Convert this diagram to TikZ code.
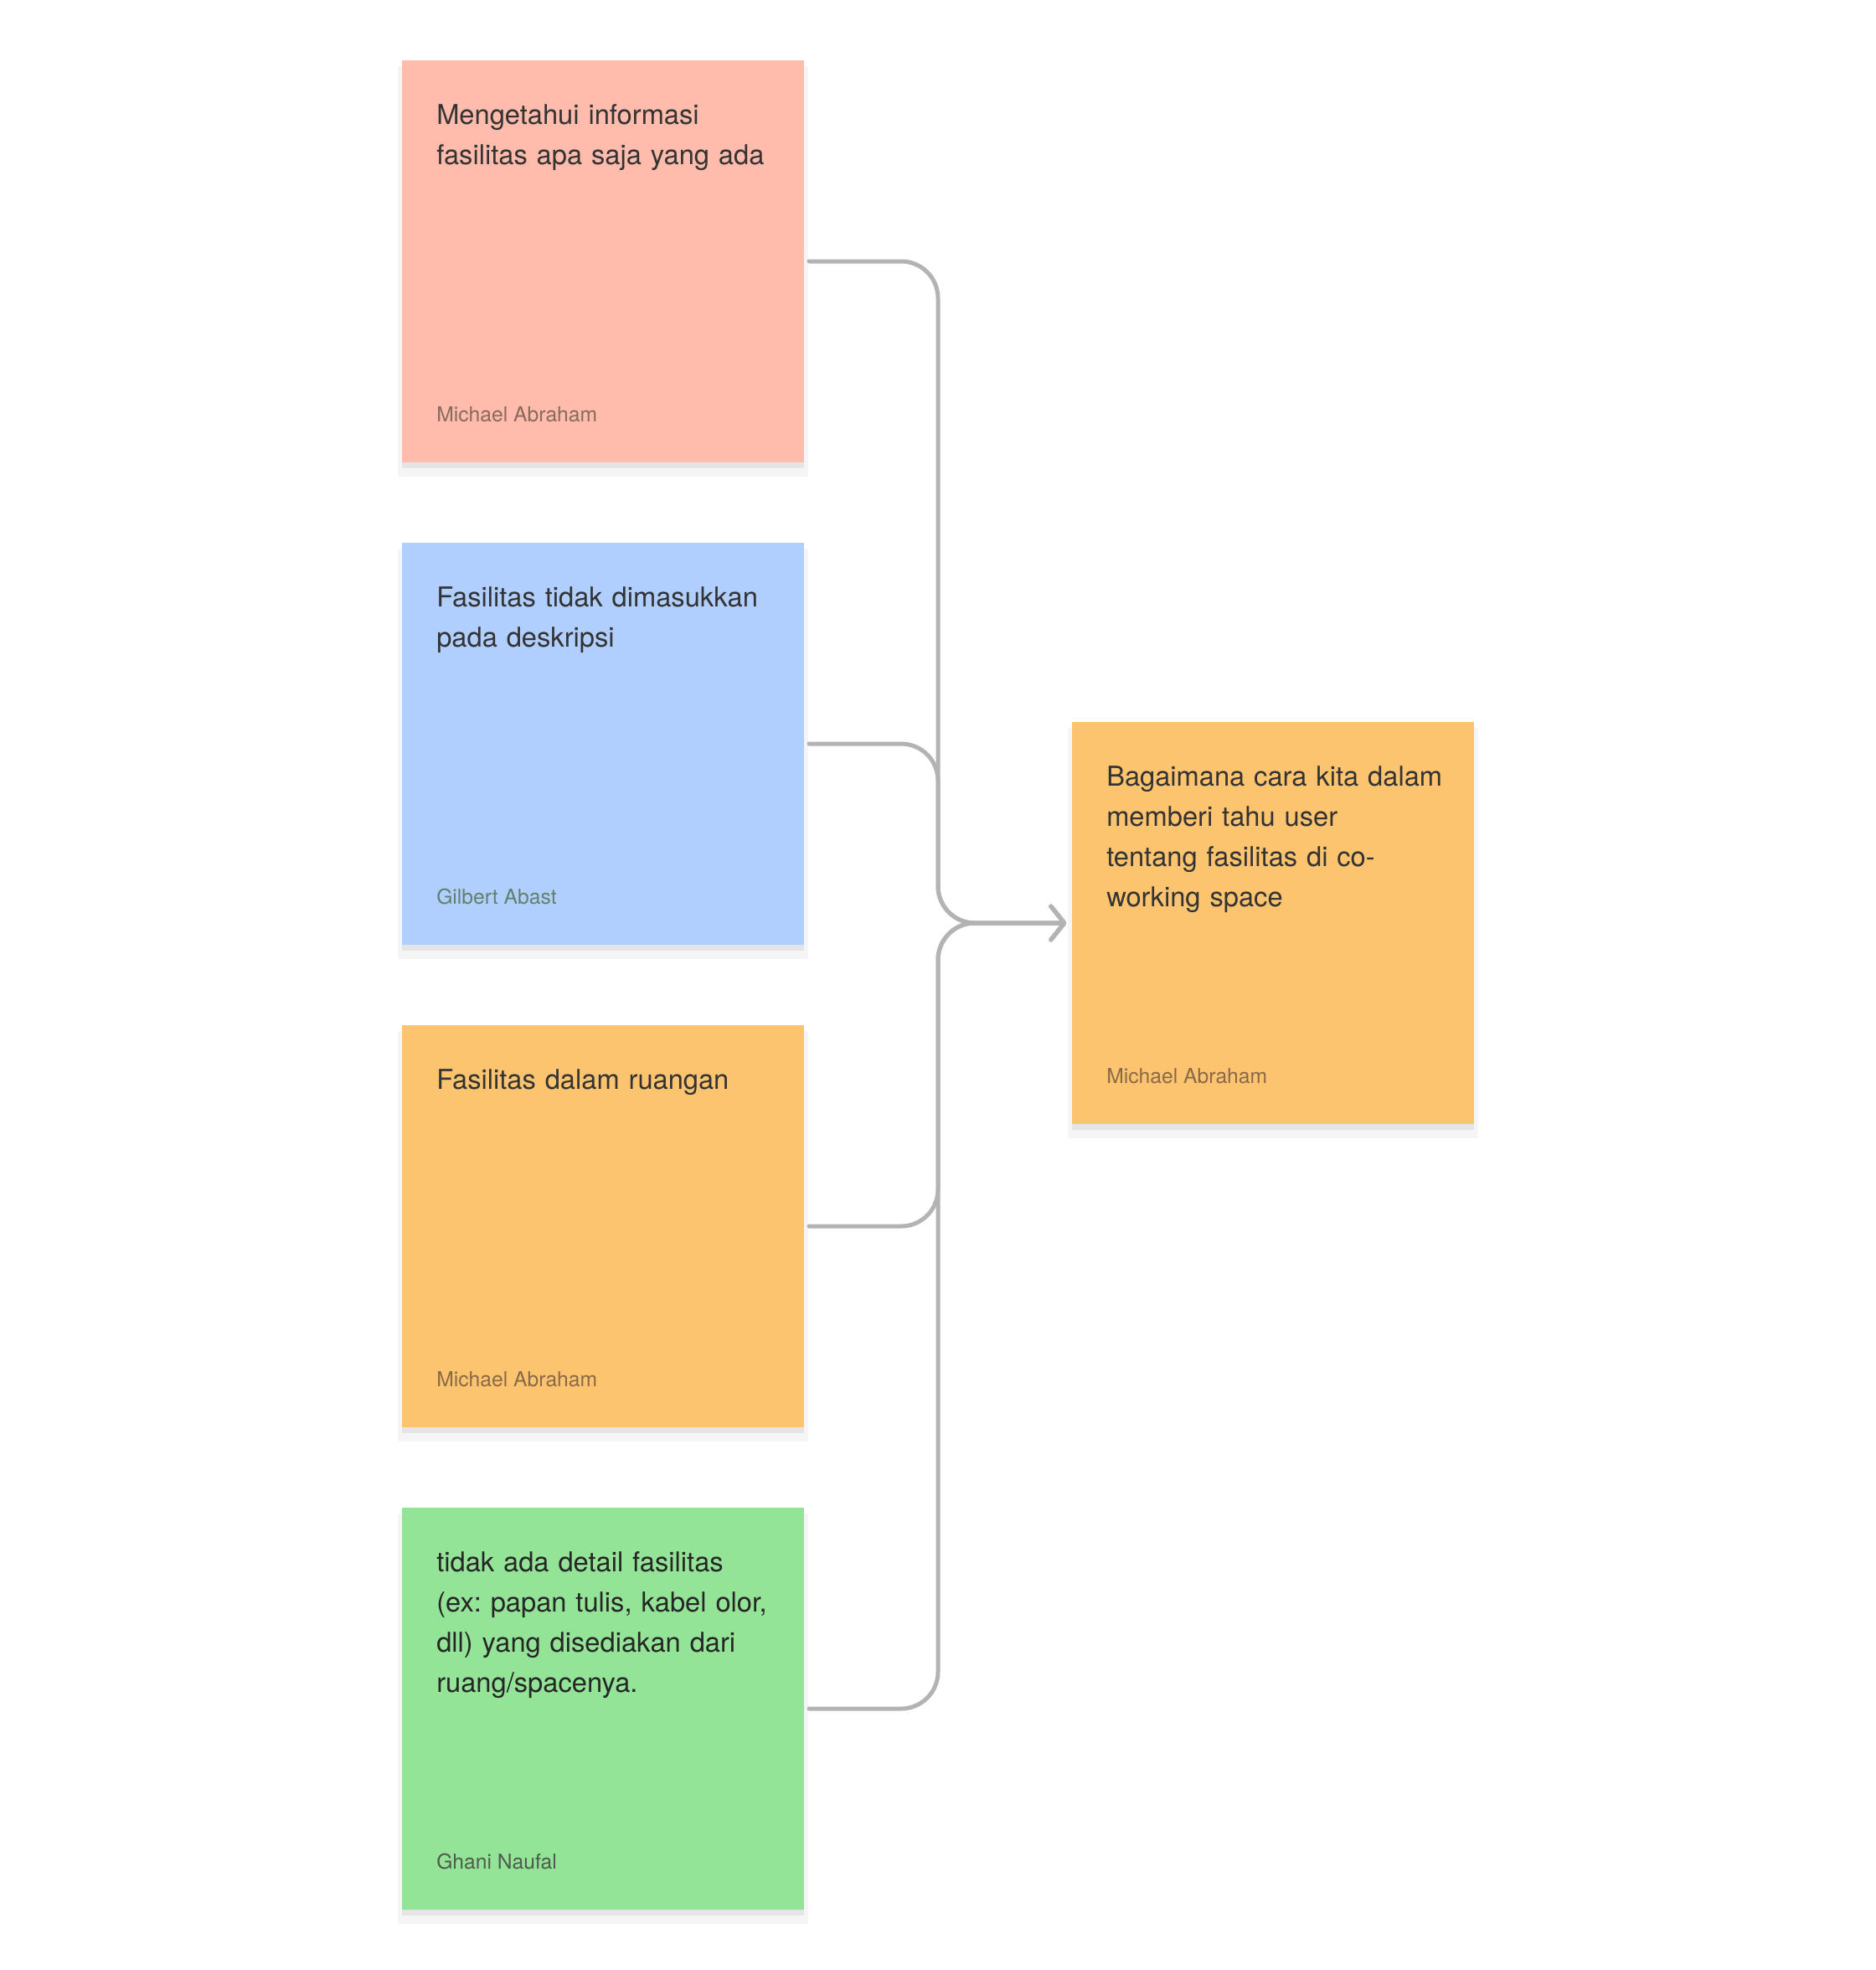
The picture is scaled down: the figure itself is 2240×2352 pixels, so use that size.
\documentclass[tikz,border=0pt]{standalone}
\usepackage{fontspec}
\setmainfont{TeX Gyre Heros}
\usepackage{xcolor}
\usetikzlibrary{positioning}
\usetikzlibrary{shadows}
\usetikzlibrary{arrows.meta}
\frenchspacing

\definecolor{notepink}{HTML}{FFBCAC}
\definecolor{noteblue}{HTML}{B0CFFF}
\definecolor{noteorange}{HTML}{FDC470}
\definecolor{notegreen}{HTML}{94E497}
\definecolor{notefg}{HTML}{333333}
\definecolor{linegray}{HTML}{B3B3B3}
\definecolor{byPink}{HTML}{8A6A5C}
\definecolor{byBlue}{HTML}{62806F}
\definecolor{byOrange}{HTML}{8A6A46}
\definecolor{byGreen}{HTML}{505A50}

\tikzset{
  sticky/.style={rectangle,
    minimum width=360pt,
    minimum height=360pt,
    inner sep=0pt,
    outer sep=0pt,
    general shadow={shadow yshift=-9pt, shadow scale=1.02, fill=black!4},
    general shadow={shadow yshift=-5pt, fill=black!10}},
  notetext/.style={anchor=base west,
    inner sep=0pt,
    text width=345pt,
    align=left,
    text=notefg,
    font=\fontsize{24.5}{36}\selectfont},
  byline/.style={anchor=base west,
    inner sep=0pt,
    font=\fontsize{18.5}{22}\selectfont},
  conn/.style={draw=linegray,
    line width=3.75pt,
    line cap=round,
    rounded corners=33pt,
    shorten <=4.5pt,
    shorten >=5pt,
    -{Straight Barb[length=12pt, width=30pt, round]}}
}

\begin{document}
\begin{tikzpicture}[x=0.75pt, y=-0.75pt]
    \useasboundingbox (0,0) rectangle (2240,2352);

    % sticky notes
    \node[sticky, anchor=north west, fill=notepink] (b1) at (480,72) {};
    \node[sticky, fill=noteblue, below=72pt of b1] (b2) {};
    \node[sticky, fill=noteorange, below=72pt of b2] (b3) {};
    \node[sticky, fill=notegreen, below=72pt of b3] (b4) {};
    \node[sticky, anchor=north west, fill=noteorange] (tgt) at (1280,862) {};

    % texts
    \node[notetext] (t1) at ([shift={(41,76)}]b1.north west) {Mengetahui informasi\\fasilitas apa saja yang ada};
    \node[byline, text=byPink] (a1) at ([shift={(41,-49)}]b1.south west) {Michael Abraham};
    \node[notetext] (t2) at ([shift={(41,76)}]b2.north west) {Fasilitas tidak dimasukkan\\pada deskripsi};
    \node[byline, text=byBlue] (a2) at ([shift={(41,-49)}]b2.south west) {Gilbert Abast};
    \node[notetext] (t3) at ([shift={(41,76)}]b3.north west) {Fasilitas dalam ruangan};
    \node[byline, text=byOrange] (a3) at ([shift={(41,-49)}]b3.south west) {Michael Abraham};
    \node[notetext, text=black!85] (t4) at ([shift={(41,76)}]b4.north west) {tidak ada detail fasilitas\\(ex: papan tulis, kabel olor,\\dll) yang disediakan dari\\ruang/spacenya.};
    \node[byline, text=byGreen] (a4) at ([shift={(41,-49)}]b4.south west) {Ghani Naufal};
    \node[notetext] (t5) at ([shift={(41,76)}]tgt.north west) {Bagaimana cara kita dalam\\memberi tahu user\\tentang fasilitas di co-\\working space};
    \node[byline, text=byOrange] (a5) at ([shift={(41,-49)}]tgt.south west) {Michael Abraham};

    % connectors
    \coordinate (j) at ([xshift=-120pt]tgt.west);
    \draw[conn] (b1.east) -| (j) -- (tgt.west);
    \draw[conn] (b2.east) -| (j) -- (tgt.west);
    \draw[conn] (b3.east) -| (j) -- (tgt.west);
    \draw[conn] (b4.east) -| (j) -- (tgt.west);
\end{tikzpicture}
\end{document}
